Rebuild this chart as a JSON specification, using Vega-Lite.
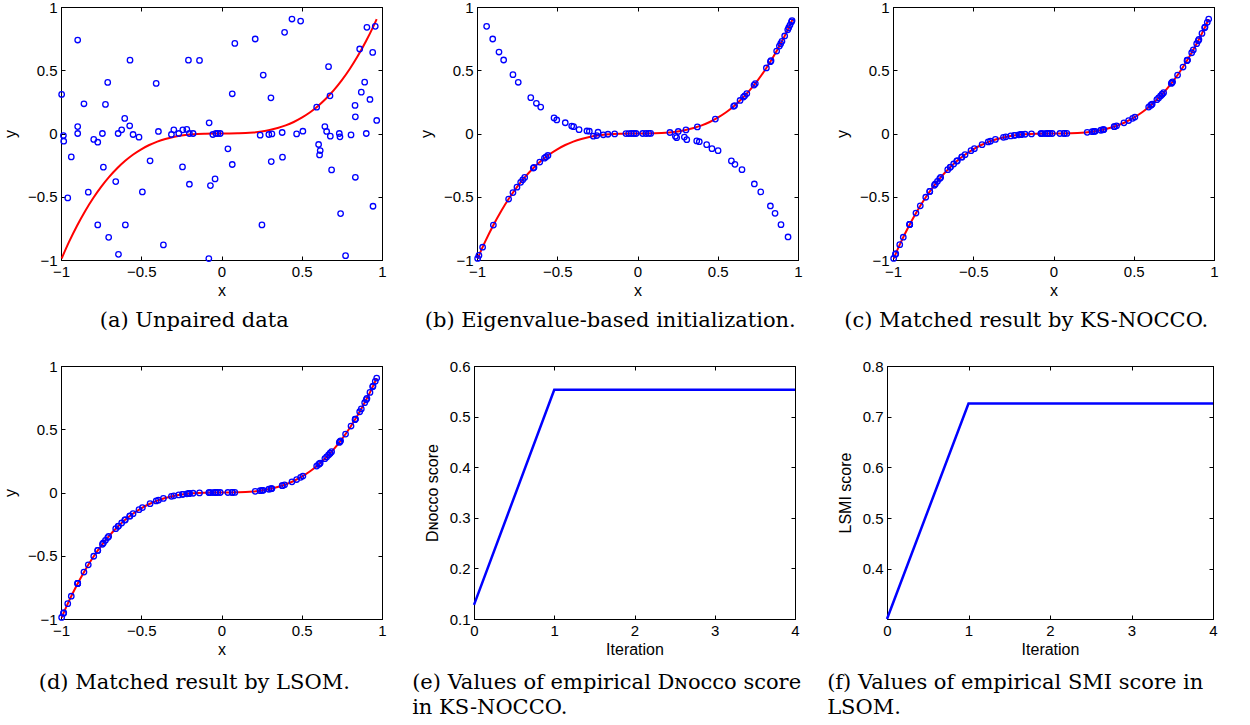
{
  "$schema": "https://vega.github.io/schema/vega-lite/v6.json",
  "background": "white",
  "padding": {"left": 1, "top": -1, "right": 0, "bottom": 0},
  "config": {
    "view": {"stroke": "#000", "strokeWidth": 1},
    "axis": {"labelFont": "Liberation Sans", "labelFontSize": 15, "labelColor": "#000", "titleFont": "Liberation Sans", "titleFontSize": 16, "titleFontWeight": "normal", "titleColor": "#000", "domainColor": "#000", "tickColor": "#000", "tickSize": -4, "labelPadding": 8, "titlePadding": 3, "grid": false, "labelFlush": false, "labelOverlap": false, "format": "~g"},
    "axisY": {"titlePadding": 9},
    "title": {"font": "DejaVu Serif", "fontSize": 21, "fontWeight": "normal", "color": "#000", "orient": "bottom", "offset": 12}
  },
  "datasets": {
    "pts": [
      {"x": -0.996, "ya": 0.309, "yc": -0.988}, {"x": -0.985, "ya": -0.016, "yc": -0.956}, {"x": -0.983, "ya": -0.061, "yc": -0.950},
      {"x": -0.958, "ya": -0.509, "yc": -0.879}, {"x": -0.936, "ya": -0.185, "yc": -0.820}, {"x": -0.896, "ya": 0.739, "yc": -0.719},
      {"x": -0.896, "ya": 0.055, "yc": -0.719}, {"x": -0.896, "ya": 0.0, "yc": -0.719}, {"x": -0.857, "ya": 0.235, "yc": -0.629},
      {"x": -0.830, "ya": -0.464, "yc": -0.572}, {"x": -0.796, "ya": -0.047, "yc": -0.504}, {"x": -0.771, "ya": -0.069, "yc": -0.458},
      {"x": -0.771, "ya": -0.723, "yc": -0.458}, {"x": -0.742, "ya": 0.0, "yc": -0.409}, {"x": -0.736, "ya": -0.266, "yc": -0.399},
      {"x": -0.723, "ya": 0.230, "yc": -0.378}, {"x": -0.709, "ya": 0.404, "yc": -0.356}, {"x": -0.703, "ya": -0.821, "yc": -0.347},
      {"x": -0.659, "ya": -0.380, "yc": -0.286}, {"x": -0.644, "ya": 0.0, "yc": -0.267}, {"x": -0.642, "ya": -0.955, "yc": -0.265},
      {"x": -0.622, "ya": 0.029, "yc": -0.241}, {"x": -0.603, "ya": 0.119, "yc": -0.219}, {"x": -0.599, "ya": -0.723, "yc": -0.215},
      {"x": -0.572, "ya": 0.061, "yc": -0.187}, {"x": -0.570, "ya": 0.580, "yc": -0.185}, {"x": -0.551, "ya": -0.008, "yc": -0.167},
      {"x": -0.514, "ya": -0.029, "yc": -0.136}, {"x": -0.493, "ya": -0.462, "yc": -0.120}, {"x": -0.445, "ya": -0.216, "yc": -0.088},
      {"x": -0.407, "ya": 0.396, "yc": -0.067}, {"x": -0.393, "ya": 0.016, "yc": -0.061}, {"x": -0.362, "ya": -0.881, "yc": -0.047},
      {"x": -0.312, "ya": -0.008, "yc": -0.030}, {"x": -0.297, "ya": 0.029, "yc": -0.026}, {"x": -0.266, "ya": 0.0, "yc": -0.019},
      {"x": -0.243, "ya": -0.264, "yc": -0.014}, {"x": -0.241, "ya": 0.029, "yc": -0.014}, {"x": -0.216, "ya": 0.032, "yc": -0.010},
      {"x": -0.206, "ya": 0.580, "yc": -0.009}, {"x": -0.200, "ya": 0.0, "yc": -0.008}, {"x": -0.200, "ya": -0.401, "yc": -0.008},
      {"x": -0.177, "ya": 0.0, "yc": -0.006}, {"x": -0.137, "ya": 0.578, "yc": -0.003}, {"x": -0.079, "ya": -0.989, "yc": -0.0005},
      {"x": -0.077, "ya": 0.084, "yc": -0.0005}, {"x": -0.069, "ya": -0.412, "yc": -0.0003}, {"x": -0.054, "ya": -0.008, "yc": -0.0002},
      {"x": -0.040, "ya": -0.359, "yc": -0.0001}, {"x": -0.035, "ya": 0.0, "yc": 0.0}, {"x": -0.023, "ya": 0.0, "yc": 0.0},
      {"x": -0.008, "ya": 0.0, "yc": 0.0}, {"x": 0.040, "ya": -0.121, "yc": 0.0001}, {"x": 0.067, "ya": -0.245, "yc": 0.0003},
      {"x": 0.067, "ya": 0.314, "yc": 0.0003}, {"x": 0.083, "ya": 0.712, "yc": 0.0006}, {"x": 0.210, "ya": 0.747, "yc": 0.0093},
      {"x": 0.241, "ya": -0.013, "yc": 0.014}, {"x": 0.252, "ya": -0.723, "yc": 0.016}, {"x": 0.260, "ya": 0.462, "yc": 0.0176},
      {"x": 0.295, "ya": -0.008, "yc": 0.0257}, {"x": 0.308, "ya": 0.282, "yc": 0.0292}, {"x": 0.310, "ya": -0.222, "yc": 0.0298},
      {"x": 0.314, "ya": -0.003, "yc": 0.031}, {"x": 0.378, "ya": 0.008, "yc": 0.054}, {"x": 0.380, "ya": -0.187, "yc": 0.0549},
      {"x": 0.393, "ya": 0.800, "yc": 0.0607}, {"x": 0.439, "ya": 0.905, "yc": 0.0846}, {"x": 0.468, "ya": -0.003, "yc": 0.1025},
      {"x": 0.493, "ya": 0.889, "yc": 0.1198}, {"x": 0.507, "ya": 0.018, "yc": 0.1303}, {"x": 0.593, "ya": 0.208, "yc": 0.2085},
      {"x": 0.605, "ya": -0.087, "yc": 0.2215}, {"x": 0.611, "ya": -0.169, "yc": 0.2281}, {"x": 0.615, "ya": -0.135, "yc": 0.2326},
      {"x": 0.644, "ya": 0.055, "yc": 0.2671}, {"x": 0.655, "ya": 0.016, "yc": 0.281}, {"x": 0.667, "ya": 0.528, "yc": 0.2967},
      {"x": 0.676, "ya": 0.298, "yc": 0.3089}, {"x": 0.678, "ya": -0.021, "yc": 0.3117}, {"x": 0.686, "ya": -0.288, "yc": 0.3228},
      {"x": 0.734, "ya": 0.0, "yc": 0.3954}, {"x": 0.738, "ya": -0.026, "yc": 0.4019}, {"x": 0.742, "ya": -0.633, "yc": 0.4085},
      {"x": 0.773, "ya": -0.966, "yc": 0.4619}, {"x": 0.807, "ya": -0.011, "yc": 0.5255}, {"x": 0.832, "ya": 0.222, "yc": 0.5759},
      {"x": 0.834, "ya": 0.132, "yc": 0.5801}, {"x": 0.834, "ya": -0.346, "yc": 0.5801}, {"x": 0.861, "ya": 0.668, "yc": 0.6383},
      {"x": 0.871, "ya": 0.327, "yc": 0.6608}, {"x": 0.892, "ya": 0.406, "yc": 0.7097}, {"x": 0.902, "ya": 0.0, "yc": 0.7339},
      {"x": 0.906, "ya": 0.839, "yc": 0.7437}, {"x": 0.925, "ya": 0.269, "yc": 0.7915}, {"x": 0.942, "ya": 0.641, "yc": 0.8359},
      {"x": 0.944, "ya": -0.575, "yc": 0.8412}, {"x": 0.958, "ya": 0.847, "yc": 0.8792}, {"x": 0.967, "ya": 0.103, "yc": 0.9042}
    ],
    "curve": [
      {"x": -0.996, "y": -0.988}, {"x": -0.95, "y": -0.857}, {"x": -0.9, "y": -0.729}, {"x": -0.85, "y": -0.614},
      {"x": -0.8, "y": -0.512}, {"x": -0.75, "y": -0.422}, {"x": -0.7, "y": -0.343}, {"x": -0.65, "y": -0.275},
      {"x": -0.6, "y": -0.216}, {"x": -0.55, "y": -0.166}, {"x": -0.5, "y": -0.125}, {"x": -0.45, "y": -0.091},
      {"x": -0.4, "y": -0.064}, {"x": -0.35, "y": -0.043}, {"x": -0.3, "y": -0.027}, {"x": -0.25, "y": -0.016},
      {"x": -0.2, "y": -0.008}, {"x": -0.15, "y": -0.003}, {"x": -0.1, "y": -0.001}, {"x": -0.05, "y": 0.0},
      {"x": 0.0, "y": 0.0}, {"x": 0.05, "y": 0.0}, {"x": 0.1, "y": 0.001}, {"x": 0.15, "y": 0.003},
      {"x": 0.2, "y": 0.008}, {"x": 0.25, "y": 0.016}, {"x": 0.3, "y": 0.027}, {"x": 0.35, "y": 0.043},
      {"x": 0.4, "y": 0.064}, {"x": 0.45, "y": 0.091}, {"x": 0.5, "y": 0.125}, {"x": 0.55, "y": 0.166},
      {"x": 0.6, "y": 0.216}, {"x": 0.65, "y": 0.275}, {"x": 0.7, "y": 0.343}, {"x": 0.75, "y": 0.422},
      {"x": 0.8, "y": 0.512}, {"x": 0.85, "y": 0.614}, {"x": 0.9, "y": 0.729}, {"x": 0.95, "y": 0.857},
      {"x": 0.967, "y": 0.904}
    ],
    "pb": [
      {"x": -0.940, "y": 0.847}, {"x": -0.902, "y": 0.747}, {"x": -0.863, "y": 0.644}, {"x": -0.834, "y": 0.581},
      {"x": -0.776, "y": 0.465}, {"x": -0.743, "y": 0.405}, {"x": -0.665, "y": 0.283}, {"x": -0.630, "y": 0.239},
      {"x": -0.603, "y": 0.209}, {"x": -0.520, "y": 0.123}, {"x": -0.503, "y": 0.107}, {"x": -0.450, "y": 0.085},
      {"x": -0.410, "y": 0.059}, {"x": -0.398, "y": 0.054}, {"x": -0.364, "y": 0.030}, {"x": -0.315, "y": 0.020},
      {"x": -0.300, "y": 0.018}, {"x": -0.246, "y": 0.010},
      {"x": -0.996, "y": -0.988}, {"x": -0.988, "y": -0.964}, {"x": -0.965, "y": -0.899}, {"x": -0.898, "y": -0.724},
      {"x": -0.803, "y": -0.518}, {"x": -0.776, "y": -0.467}, {"x": -0.751, "y": -0.424}, {"x": -0.728, "y": -0.386},
      {"x": -0.715, "y": -0.366}, {"x": -0.703, "y": -0.347}, {"x": -0.649, "y": -0.273}, {"x": -0.645, "y": -0.268},
      {"x": -0.609, "y": -0.226}, {"x": -0.580, "y": -0.195}, {"x": -0.570, "y": -0.185}, {"x": -0.558, "y": -0.174},
      {"x": -0.275, "y": -0.021}, {"x": -0.254, "y": -0.016}, {"x": -0.213, "y": -0.010}, {"x": -0.184, "y": -0.006},
      {"x": -0.142, "y": -0.003}, {"x": -0.072, "y": -0.0004}, {"x": -0.055, "y": -0.0002}, {"x": -0.039, "y": -0.0001},
      {"x": -0.022, "y": 0.0}, {"x": -0.009, "y": 0.0},
      {"x": 0.032, "y": 0.0}, {"x": 0.053, "y": 0.0001}, {"x": 0.070, "y": 0.0003}, {"x": 0.082, "y": 0.0006},
      {"x": 0.202, "y": 0.008}, {"x": 0.254, "y": 0.016}, {"x": 0.302, "y": 0.028}, {"x": 0.373, "y": 0.052},
      {"x": 0.485, "y": 0.114}, {"x": 0.599, "y": 0.215}, {"x": 0.605, "y": 0.221}, {"x": 0.639, "y": 0.261},
      {"x": 0.660, "y": 0.288}, {"x": 0.668, "y": 0.298}, {"x": 0.681, "y": 0.316}, {"x": 0.726, "y": 0.383},
      {"x": 0.734, "y": 0.395}, {"x": 0.803, "y": 0.518}, {"x": 0.828, "y": 0.568}, {"x": 0.832, "y": 0.576},
      {"x": 0.867, "y": 0.652}, {"x": 0.884, "y": 0.691}, {"x": 0.892, "y": 0.710}, {"x": 0.900, "y": 0.729},
      {"x": 0.917, "y": 0.771}, {"x": 0.936, "y": 0.820}, {"x": 0.942, "y": 0.836}, {"x": 0.950, "y": 0.857},
      {"x": 0.959, "y": 0.882}, {"x": 0.963, "y": 0.893},
      {"x": 0.236, "y": -0.022}, {"x": 0.244, "y": -0.033}, {"x": 0.292, "y": -0.028}, {"x": 0.307, "y": -0.049},
      {"x": 0.369, "y": -0.059}, {"x": 0.385, "y": -0.065}, {"x": 0.431, "y": -0.088}, {"x": 0.464, "y": -0.120},
      {"x": 0.502, "y": -0.136}, {"x": 0.585, "y": -0.217}, {"x": 0.607, "y": -0.244}, {"x": 0.651, "y": -0.286},
      {"x": 0.728, "y": -0.399}, {"x": 0.768, "y": -0.462}, {"x": 0.828, "y": -0.573}, {"x": 0.857, "y": -0.631},
      {"x": 0.894, "y": -0.721}, {"x": 0.938, "y": -0.818}
    ],
    "iterE": [
      {"it": 0, "v": 0.128}, {"it": 1, "v": 0.553}, {"it": 2, "v": 0.553}, {"it": 3, "v": 0.553}, {"it": 4, "v": 0.553}
    ],
    "iterF": [
      {"it": 0, "v": 0.301}, {"it": 1, "v": 0.726}, {"it": 2, "v": 0.726}, {"it": 3, "v": 0.726}, {"it": 4, "v": 0.726}
    ]
  },
  "vconcat": [
    {
      "hconcat": [
        {
          "width": 321, "height": 253,
          "title": {"text": "(a) Unpaired data", "anchor": "middle", "frame": "bounds"},
          "layer": [
            {
              "data": {"name": "curve"},
              "mark": {"type": "line", "color": "#ff0000", "strokeWidth": 2, "interpolate": "monotone"},
              "encoding": {
                "x": {"field": "x", "type": "quantitative", "scale": {"domain": [-1, 1], "nice": false, "zero": false}, "axis": {"orient": "bottom", "title": "x", "values": [-1, -0.5, 0, 0.5, 1]}},
                "y": {"field": "y", "type": "quantitative", "scale": {"domain": [-1, 1], "nice": false, "zero": false}, "axis": {"orient": "left", "title": "y", "values": [-1, -0.5, 0, 0.5, 1]}}
              }
            },
            {
              "data": {"name": "pts"},
              "mark": {"type": "point", "shape": "circle", "filled": false, "color": "#0000ff", "size": 30, "strokeWidth": 1.3, "opacity": 1},
              "encoding": {
                "x": {"field": "x", "type": "quantitative", "axis": {"orient": "top", "title": null, "labels": false, "values": [-1, -0.5, 0, 0.5, 1]}},
                "y": {"field": "ya", "type": "quantitative", "axis": {"orient": "right", "title": null, "labels": false, "values": [-1, -0.5, 0, 0.5, 1]}}
              }
            }
          ],
          "resolve": {"axis": {"x": "independent", "y": "independent"}}
        },
        {
          "width": 321, "height": 253,
          "title": {"text": "(b) Eigenvalue-based initialization.", "anchor": "middle", "frame": "bounds"},
          "layer": [
            {
              "data": {"name": "curve"},
              "mark": {"type": "line", "color": "#ff0000", "strokeWidth": 2, "interpolate": "monotone"},
              "encoding": {
                "x": {"field": "x", "type": "quantitative", "scale": {"domain": [-1, 1], "nice": false, "zero": false}, "axis": {"orient": "bottom", "title": "x", "values": [-1, -0.5, 0, 0.5, 1]}},
                "y": {"field": "y", "type": "quantitative", "scale": {"domain": [-1, 1], "nice": false, "zero": false}, "axis": {"orient": "left", "title": "y", "values": [-1, -0.5, 0, 0.5, 1]}}
              }
            },
            {
              "data": {"name": "pb"},
              "mark": {"type": "point", "shape": "circle", "filled": false, "color": "#0000ff", "size": 30, "strokeWidth": 1.3, "opacity": 1},
              "encoding": {
                "x": {"field": "x", "type": "quantitative", "axis": {"orient": "top", "title": null, "labels": false, "values": [-1, -0.5, 0, 0.5, 1]}},
                "y": {"field": "y", "type": "quantitative", "axis": {"orient": "right", "title": null, "labels": false, "values": [-1, -0.5, 0, 0.5, 1]}}
              }
            }
          ],
          "resolve": {"axis": {"x": "independent", "y": "independent"}}
        },
        {
          "width": 321, "height": 253,
          "title": {"text": "(c) Matched result by KS-NOCCO.", "anchor": "middle", "frame": "bounds"},
          "layer": [
            {
              "data": {"name": "curve"},
              "mark": {"type": "line", "color": "#ff0000", "strokeWidth": 2, "interpolate": "monotone"},
              "encoding": {
                "x": {"field": "x", "type": "quantitative", "scale": {"domain": [-1, 1], "nice": false, "zero": false}, "axis": {"orient": "bottom", "title": "x", "values": [-1, -0.5, 0, 0.5, 1]}},
                "y": {"field": "y", "type": "quantitative", "scale": {"domain": [-1, 1], "nice": false, "zero": false}, "axis": {"orient": "left", "title": "y", "values": [-1, -0.5, 0, 0.5, 1]}}
              }
            },
            {
              "data": {"name": "pts"},
              "mark": {"type": "point", "shape": "circle", "filled": false, "color": "#0000ff", "size": 30, "strokeWidth": 1.3, "opacity": 1},
              "encoding": {
                "x": {"field": "x", "type": "quantitative", "axis": {"orient": "top", "title": null, "labels": false, "values": [-1, -0.5, 0, 0.5, 1]}},
                "y": {"field": "yc", "type": "quantitative", "axis": {"orient": "right", "title": null, "labels": false, "values": [-1, -0.5, 0, 0.5, 1]}}
              }
            }
          ],
          "resolve": {"axis": {"x": "independent", "y": "independent"}}
        }
      ],
      "spacing": 95,
      "bounds": "flush"
    },
    {
      "hconcat": [
        {
          "width": 321, "height": 253,
          "title": {"text": "(d) Matched result by LSOM.", "anchor": "middle", "frame": "bounds", "offset": 15},
          "layer": [
            {
              "data": {"name": "curve"},
              "mark": {"type": "line", "color": "#ff0000", "strokeWidth": 2, "interpolate": "monotone"},
              "encoding": {
                "x": {"field": "x", "type": "quantitative", "scale": {"domain": [-1, 1], "nice": false, "zero": false}, "axis": {"orient": "bottom", "title": "x", "values": [-1, -0.5, 0, 0.5, 1]}},
                "y": {"field": "y", "type": "quantitative", "scale": {"domain": [-1, 1], "nice": false, "zero": false}, "axis": {"orient": "left", "title": "y", "values": [-1, -0.5, 0, 0.5, 1]}}
              }
            },
            {
              "data": {"name": "pts"},
              "mark": {"type": "point", "shape": "circle", "filled": false, "color": "#0000ff", "size": 30, "strokeWidth": 1.3, "opacity": 1},
              "encoding": {
                "x": {"field": "x", "type": "quantitative", "axis": {"orient": "top", "title": null, "labels": false, "values": [-1, -0.5, 0, 0.5, 1]}},
                "y": {"field": "yc", "type": "quantitative", "axis": {"orient": "right", "title": null, "labels": false, "values": [-1, -0.5, 0, 0.5, 1]}}
              }
            }
          ],
          "resolve": {"axis": {"x": "independent", "y": "independent"}}
        },
        {
          "width": 321, "height": 253,
          "title": {"text": ["(e) Values of empirical Dɴᴏᴄᴄᴏ score", "in KS-NOCCO."], "anchor": "start", "frame": "bounds", "lineHeight": 25, "dx": -12, "offset": 15},
          "layer": [
            {
              "data": {"name": "iterE"},
              "mark": {"type": "line", "color": "#0000ff", "strokeWidth": 2.5},
              "encoding": {
                "x": {"field": "it", "type": "quantitative", "scale": {"domain": [0, 4], "nice": false, "zero": false}, "axis": {"orient": "bottom", "title": "Iteration", "values": [0, 1, 2, 3, 4]}},
                "y": {"field": "v", "type": "quantitative", "scale": {"domain": [0.1, 0.6], "nice": false, "zero": false}, "axis": {"orient": "left", "title": "Dɴᴏᴄᴄᴏ score", "values": [0.1, 0.2, 0.3, 0.4, 0.5, 0.6]}}
              }
            },
            {
              "data": {"name": "iterE"},
              "mark": {"type": "line", "color": "#0000ff", "strokeWidth": 2.5, "opacity": 0},
              "encoding": {
                "x": {"field": "it", "type": "quantitative", "axis": {"orient": "top", "title": null, "labels": false, "values": [0, 1, 2, 3, 4]}},
                "y": {"field": "v", "type": "quantitative", "axis": {"orient": "right", "title": null, "labels": false, "values": [0.1, 0.2, 0.3, 0.4, 0.5, 0.6]}}
              }
            }
          ],
          "resolve": {"axis": {"x": "independent", "y": "independent"}}
        },
        {
          "width": 326, "height": 253,
          "title": {"text": ["(f) Values of empirical SMI score in", "LSOM."], "anchor": "start", "frame": "bounds", "lineHeight": 25, "dx": -10, "offset": 15},
          "layer": [
            {
              "data": {"name": "iterF"},
              "mark": {"type": "line", "color": "#0000ff", "strokeWidth": 2.5},
              "encoding": {
                "x": {"field": "it", "type": "quantitative", "scale": {"domain": [0, 4], "nice": false, "zero": false}, "axis": {"orient": "bottom", "title": "Iteration", "values": [0, 1, 2, 3, 4]}},
                "y": {"field": "v", "type": "quantitative", "scale": {"domain": [0.301, 0.8], "nice": false, "zero": false}, "axis": {"orient": "left", "title": "LSMI score", "values": [0.4, 0.5, 0.6, 0.7, 0.8]}}
              }
            },
            {
              "data": {"name": "iterF"},
              "mark": {"type": "line", "color": "#0000ff", "strokeWidth": 2.5, "opacity": 0},
              "encoding": {
                "x": {"field": "it", "type": "quantitative", "axis": {"orient": "top", "title": null, "labels": false, "values": [0, 1, 2, 3, 4]}},
                "y": {"field": "v", "type": "quantitative", "axis": {"orient": "right", "title": null, "labels": false, "values": [0.4, 0.5, 0.6, 0.7, 0.8]}}
              }
            }
          ],
          "resolve": {"axis": {"x": "independent", "y": "independent"}}
        }
      ],
      "spacing": 92,
      "bounds": "flush"
    }
  ],
  "spacing": 26
}
